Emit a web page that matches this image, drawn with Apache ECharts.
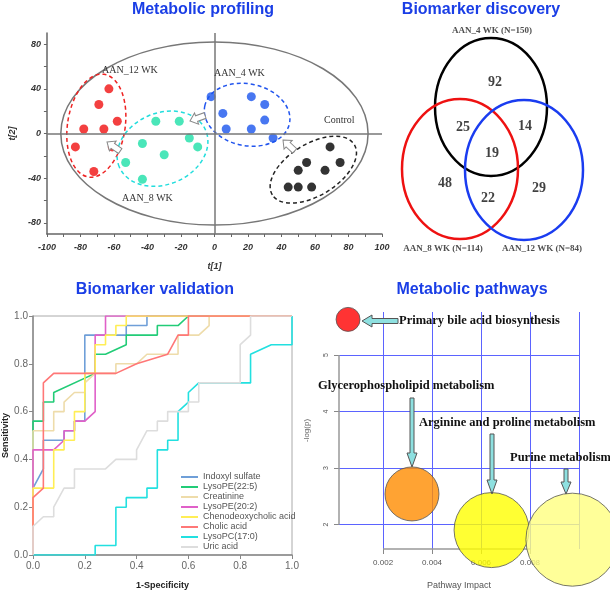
<!DOCTYPE html>
<html><head><meta charset="utf-8">
<script src="https://cdn.jsdelivr.net/npm/echarts@6/dist/echarts.min.js"></script>
<style>html,body{margin:0;padding:0;background:#fff}#c{width:610px;height:591px}</style>
</head><body><div id="c"></div>
<script>
// ---------- Panel 1: PCA scores (t[1], t[2]) ----------
const pcaGroups = ['AAN_12 WK', 'AAN_8 WK', 'AAN_4 WK', 'Control'];
const pcaAAN12 = [[-63,40],[-69,26],[-58,11],[-78,4],[-66,4],[-83,-12],[-61,-12],[-72,-34]];
const pcaAAN8 = [[-35,11],[-21,11],[-15,-4],[-10,-12],[-43,-9],[-30,-19],[-53,-26],[-43,-41]];
const pcaAAN4 = [[-2,33],[22,33],[30,26],[5,18],[30,12],[7,4],[22,4],[35,-4]];
const pcaControl = [[69,-12],[55,-26],[75,-26],[50,-33],[66,-33],[44,-48],[50,-48],[58,-48]];
const pcaXLabels = [-100,-80,-60,-40,-20,0,20,40,60,80,100];
const pcaXTicks = [-100,-90,-80,-70,-60,-50,-40,-30,-20,-10,0,10,20,30,40,50,60,70,80,90,100];
const pcaYLabels = [-80,-40,0,40,80];
const pcaYTicks = [-80,-60,-40,-20,0,20,40,60,80];

// ---------- Panel 2: Venn counts ----------
const vennSets = ['AAN_4 WK', 'AAN_8 WK', 'AAN_12 WK'];
const vennTotals = [150, 114, 84];
const vennRegions = ['4 only', '4&8', '4&12', '4&8&12', '8 only', '8&12', '12 only'];
const vennCounts = [92, 25, 14, 19, 48, 22, 29];

// ---------- Panel 3: ROC curves ----------
const rocNames = ['Indoxyl sulfate','LysoPE(22:5)','Creatinine','LysoPE(20:2)','Chenodeoxycholic acid','Cholic acid','LysoPC(17:0)','Uric acid'];
const rocIndoxyl = [[0,0],[0,0.28],[0.04,0.36],[0.04,0.48],[0.12,0.48],[0.12,0.52],[0.16,0.52],[0.16,0.56],[0.2,0.56],[0.2,0.92],[0.36,0.92],[0.36,0.96],[0.44,0.96],[0.44,1],[1,1]];
const rocLysoPE225 = [[0,0],[0,0.56],[0.04,0.56],[0.04,0.64],[0.08,0.64],[0.08,0.68],[0.24,0.76],[0.24,0.84],[0.28,0.84],[0.36,0.88],[0.36,0.92],[0.48,0.92],[0.48,0.96],[0.56,0.96],[0.6,1],[1,1]];
const rocCreatinine = [[0,0],[0,0.52],[0.08,0.52],[0.08,0.6],[0.12,0.6],[0.12,0.64],[0.16,0.68],[0.2,0.68],[0.2,0.72],[0.24,0.76],[0.32,0.76],[0.32,0.8],[0.4,0.8],[0.44,0.84],[0.56,0.84],[0.56,0.92],[0.64,0.92],[0.68,0.96],[0.68,1],[1,1]];
const rocLysoPE202 = [[0,0],[0,0.44],[0.08,0.44],[0.12,0.48],[0.12,0.52],[0.16,0.52],[0.16,0.56],[0.2,0.56],[0.24,0.6],[0.24,0.92],[0.28,0.92],[0.28,1],[1,1]];
const rocCDCA = [[0,0],[0,0.28],[0.08,0.28],[0.08,0.44],[0.12,0.44],[0.12,0.48],[0.16,0.48],[0.16,0.6],[0.2,0.6],[0.2,0.76],[0.24,0.76],[0.24,0.88],[0.28,0.88],[0.28,0.92],[0.32,0.92],[0.32,0.96],[0.36,0.96],[0.36,1],[1,1]];
const rocCholic = [[0,0],[0,0.24],[0.04,0.28],[0.04,0.72],[0.08,0.76],[0.32,0.76],[0.4,0.8],[0.52,0.84],[0.56,0.92],[0.6,0.92],[0.6,1],[1,1]];
const rocLysoPC170 = [[0,0],[0.24,0],[0.24,0.04],[0.32,0.04],[0.32,0.2],[0.36,0.2],[0.36,0.24],[0.44,0.24],[0.44,0.28],[0.48,0.28],[0.48,0.44],[0.52,0.44],[0.52,0.48],[0.56,0.48],[0.56,0.6],[0.6,0.64],[0.6,0.68],[0.64,0.72],[0.84,0.72],[0.84,0.84],[0.92,0.88],[1,0.88],[1,1]];
const rocUric = [[0,0],[0,0.12],[0.04,0.16],[0.08,0.16],[0.08,0.2],[0.12,0.28],[0.16,0.28],[0.16,0.36],[0.28,0.36],[0.32,0.4],[0.4,0.4],[0.4,0.44],[0.44,0.52],[0.48,0.52],[0.48,0.56],[0.52,0.56],[0.52,0.6],[0.6,0.6],[0.6,0.64],[0.64,0.64],[0.64,0.72],[0.8,0.72],[0.8,0.88],[0.84,0.92],[0.84,1],[1,1]];

// ---------- Panel 4: Pathway analysis ----------
const pathwayNames = ['Primary bile acid biosynthesis','Glycerophospholipid metabolism','Arginine and proline metabolism','Purine metabolism'];
const pathwayImpact = [0.00057, 0.00318, 0.00643, 0.00973];
const pathwayLogP = [5.63, 2.54, 1.90, 1.73];
const pathwayBubble = [24, 54, 75, 93];
const pathwayXTicks = [0.002, 0.004, 0.006, 0.008];
const pathwayXGrid = [0.002, 0.004, 0.006, 0.008, 0.010];
const pathwayYTicks = [2, 3, 4, 5];

// ---------- styling ----------
const SANS = 'Arial, "Liberation Sans", sans-serif';
const SERIF = '"Times New Roman", "Liberation Serif", serif';
const TITLE_BLUE = '#1a3ee6';
const pcaColors = ['#f01010', '#1de0a8', '#1a55ee', '#000000'];
const rocColors = ['#6f9fd8', '#22cc77', '#eedcaa', '#e060c8', '#ffee55', '#ff7777', '#22e0e0', '#dddddd'];
const pathwayColors = ['#ff0000', '#ff8c00', '#ffff00', '#ffff80'];
const PX_MIN = 0.0002, PX_MAX = 0.010, PY_MIN = 1.565, PY_MAX = 5.761;

// ellipse decorations in data units: [cx, cy, rx, ry, rotation, styleIndex]
const pcaEllipses = [[0,0,91.7,82,0,0],[-70.5,7,17.2,46.5,-0.15,1],[-31,-13.6,28,32,0.4,2],[19.5,16.8,25.8,27.7,-0.2,3],[59,-32.4,28.7,23.2,0.55,4]];
const pcaEllipseStyles = [
  {color:'#777', w:1.5, dash:null},
  {color:'#ee2222', w:1.5, dash:[4,3]},
  {color:'#22dddd', w:1.5, dash:[4,3]},
  {color:'#2255ee', w:1.5, dash:[4,3]},
  {color:'#222222', w:1.5, dash:[4,3]}
];
const vennCircles = [[101,87,56,69,0,0],[70,149,58,70,0,1],[134,150,59,70,0,2]];
const vennCircleStyles = [{color:'#000', w:2.5, dash:null},{color:'#ee1111', w:2.5, dash:null},{color:'#1a3cf0', w:2.5, dash:null}];
const vennCountPos = [[105,62],[73,107],[135,106],[102,133],[55,163],[98,178],[149,168]];
const vennSetPos = [[102,11],[53,229],[152,229]];

function ellipseRenderer(styles) {
  return function (params, api) {
    const c = api.coord([api.value(0), api.value(1)]);
    const s = api.size([api.value(2), api.value(3)]);
    const st = styles[api.value(5)];
    return {
      type: 'ellipse', x: c[0], y: c[1], rotation: api.value(4),
      shape: {cx: 0, cy: 0, rx: s[0], ry: s[1]},
      style: {fill: 'none', stroke: st.color, lineWidth: st.w, lineDash: st.dash},
      silent: true
    };
  };
}

function blockArrow(tx, ty, rot, len, bodyHalf, headHalf, headLen, fill, stroke) {
  return {type: 'polygon', x: tx, y: ty, rotation: rot, z: 100, silent: true,
    shape: {points: [[0,0],[headLen,-headHalf],[headLen,-bodyHalf],[len,-bodyHalf],[len,bodyHalf],[headLen,bodyHalf],[headLen,headHalf]]},
    style: {fill: fill, stroke: stroke, lineWidth: 1}};
}
function txt(x, y, text, font, color, align) {
  return {type: 'text', x: x, y: y, z: 100, silent: true,
    style: {text: text, font: font, fill: color, align: align || 'center', verticalAlign: 'middle'}};
}

const chart = echarts.init(document.getElementById('c'), null, {renderer: 'canvas'});

const pcaData = [pcaAAN12, pcaAAN8, pcaAAN4, pcaControl];
const rocData = [rocIndoxyl, rocLysoPE225, rocCreatinine, rocLysoPE202, rocCDCA, rocCholic, rocLysoPC170, rocUric];

const series = [];
series.push({type: 'custom', xAxisIndex: 0, yAxisIndex: 0, renderItem: ellipseRenderer(pcaEllipseStyles), data: pcaEllipses, silent: true, z: 1});
pcaGroups.forEach(function (g, i) {
  const s = {type: 'scatter', name: g, xAxisIndex: 0, yAxisIndex: 0, data: pcaData[i], symbolSize: 9,
    itemStyle: {color: pcaColors[i]}, z: 3, silent: true};
  if (i === 0) {
    s.markLine = {silent: true, symbol: ['none','none'], label: {show: false}, animation: false,
      lineStyle: {color: '#777', width: 1.5, type: 'solid'},
      data: [[{coord: [0, -90]}, {coord: [0, 90]}], [{coord: [-100, 0]}, {coord: [100, 0]}]]};
  }
  series.push(s);
});
series.push({type: 'custom', xAxisIndex: 1, yAxisIndex: 1, renderItem: ellipseRenderer(vennCircleStyles), data: vennCircles, silent: true, z: 2});
series.push({type: 'scatter', name: 'venn', xAxisIndex: 1, yAxisIndex: 1, symbolSize: 0, silent: true, z: 4,
  data: vennCounts.map(function (v, i) { return {name: vennRegions[i], value: [vennCountPos[i][0], vennCountPos[i][1], v]}; }),
  label: {show: true, position: 'inside', formatter: function (p) { return p.value[2]; },
    fontFamily: SERIF, fontWeight: 'bold', fontSize: 14, color: '#111'}});
series.push({type: 'scatter', name: 'vennSets', xAxisIndex: 1, yAxisIndex: 1, symbolSize: 0, silent: true, z: 4,
  data: vennSets.map(function (v, i) { return {name: v, value: [vennSetPos[i][0], vennSetPos[i][1], vennTotals[i]]}; }),
  label: {show: true, position: 'inside', formatter: function (p) { return p.name + ' (N=' + p.value[2] + ')'; },
    fontFamily: SERIF, fontWeight: 'bold', fontSize: 9, color: '#222'}});
rocNames.forEach(function (n, i) {
  series.push({type: 'line', name: n, xAxisIndex: 2, yAxisIndex: 2, data: rocData[i], showSymbol: false, symbol: 'none',
    lineStyle: {color: rocColors[i], width: 1.6}, itemStyle: {color: rocColors[i]}, z: 3, silent: true});
});
const gridSegs = pathwayXGrid.map(function (v) { return [{coord: [v, PY_MIN]}, {coord: [v, PY_MAX]}]; })
  .concat(pathwayYTicks.map(function (v) { return [{coord: [PX_MIN, v]}, {coord: [PX_MAX, v]}]; }));
series.push({type: 'line', name: 'pgrid', xAxisIndex: 3, yAxisIndex: 3, data: [], z: 1, silent: true,
  markLine: {silent: true, symbol: ['none','none'], label: {show: false}, animation: false,
    lineStyle: {color: '#5b63ff', width: 1, type: 'solid'}, data: gridSegs}});
series.push({type: 'line', name: 'paxis', xAxisIndex: 3, yAxisIndex: 3, data: [], z: 2, silent: true,
  markLine: {silent: true, symbol: ['none','none'], label: {show: false}, animation: false,
    lineStyle: {color: '#999', width: 1.5, type: 'solid'},
    data: [
      [{coord: [pathwayXTicks[0], PY_MIN]}, {coord: [pathwayXTicks[pathwayXTicks.length-1], PY_MIN]}],
      [{coord: [PX_MIN, pathwayYTicks[0]]}, {coord: [PX_MIN, pathwayYTicks[pathwayYTicks.length-1]]}]
    ]}});
series.push({type: 'scatter', name: 'pathways', xAxisIndex: 3, yAxisIndex: 3, clip: false, z: 5, silent: true,
  data: pathwayNames.map(function (n, i) {
    return {name: n, value: [pathwayImpact[i], pathwayLogP[i], pathwayBubble[i]],
      itemStyle: {color: pathwayColors[i], borderColor: '#555', borderWidth: 1}};
  }),
  symbolSize: function (v) { return v[2]; }});

const pcaTxt = {fontSize: 9, fontWeight: 'bold', fontStyle: 'italic', color: '#333', fontFamily: SANS};
const rocTxt = {fontSize: 10, color: '#666', fontFamily: SANS};

const graphics = [
  txt(203, 10, 'Metabolic profiling', 'bold 16px ' + SANS, TITLE_BLUE),
  txt(481, 10, 'Biomarker discovery', 'bold 16px ' + SANS, TITLE_BLUE),
  txt(155, 290, 'Biomarker validation', 'bold 16px ' + SANS, TITLE_BLUE),
  txt(472, 290, 'Metabolic pathways', 'bold 16px ' + SANS, TITLE_BLUE),
  txt(102, 70, 'AAN_12 WK', '10px ' + SERIF, '#333', 'left'),
  txt(214, 73, 'AAN_4 WK', '10px ' + SERIF, '#333', 'left'),
  txt(324, 120, 'Control', '10px ' + SERIF, '#333', 'left'),
  txt(122, 198, 'AAN_8 WK', '10px ' + SERIF, '#333', 'left'),
  blockArrow(107, 142, -0.6, 16, 3, 6, 7, '#fff', '#888'),
  blockArrow(190, 121, 0.35, 16, 3, 6, 7, '#fff', '#888'),
  blockArrow(283, 140, -0.75, 16, 3, 6, 7, '#fff', '#888'),
  blockArrow(362, 321, 0, 36, 2.5, 6, 10, '#8ee0e0', '#555'),
  blockArrow(412, 467, Math.PI/2, 69, 2, 5, 14, '#8ee0e0', '#555'),
  blockArrow(492, 494, Math.PI/2, 60, 2, 5, 14, '#8ee0e0', '#555'),
  blockArrow(566, 494, Math.PI/2, 25, 2, 5, 12, '#8ee0e0', '#555'),
  txt(399, 321, pathwayNames[0], 'bold 12.5px ' + SERIF, '#111', 'left'),
  txt(318, 386, pathwayNames[1], 'bold 12.5px ' + SERIF, '#111', 'left'),
  txt(419, 423, pathwayNames[2], 'bold 12.5px ' + SERIF, '#111', 'left'),
  txt(510, 458, pathwayNames[3], 'bold 12.5px ' + SERIF, '#111', 'left')
];

const option = {
  animation: false,
  backgroundColor: '#fff',
  grid: [
    {left: 33, top: 33, width: 349, height: 201},
    {left: 390, top: 20, width: 220, height: 240},
    {left: 33, top: 316, width: 259, height: 241, show: true, borderColor: '#aaa', borderWidth: 1},
    {left: 339, top: 312, width: 240, height: 241}
  ],
  xAxis: [
    {gridIndex: 0, type: 'value', min: -100, max: 100,
      axisLine: {onZero: false, lineStyle: {color: '#666', width: 1.5}},
      axisTick: {customValues: pcaXTicks, length: 3, lineStyle: {color: '#666'}},
      axisLabel: Object.assign({customValues: pcaXLabels, margin: 9}, pcaTxt),
      splitLine: {show: false},
      name: 't[1]', nameLocation: 'middle', nameGap: 28, nameTextStyle: pcaTxt},
    {gridIndex: 1, type: 'value', min: 0, max: 220, show: false},
    {gridIndex: 2, type: 'value', min: 0, max: 1, interval: 0.2,
      axisLine: {onZero: false, lineStyle: {color: '#888', width: 1.5}},
      axisTick: {length: 4, lineStyle: {color: '#888'}},
      axisLabel: Object.assign({margin: 6, formatter: function (v) { return v.toFixed(1); }}, rocTxt),
      splitLine: {show: false},
      name: '1-Specificity', nameLocation: 'middle', nameGap: 26,
      nameTextStyle: {fontSize: 9, fontWeight: 'bold', color: '#222', fontFamily: SANS}},
    {gridIndex: 3, type: 'value', min: PX_MIN, max: PX_MAX,
      axisLine: {show: false},
      axisTick: {customValues: pathwayXTicks, length: 5, lineStyle: {color: '#888'}},
      axisLabel: {customValues: pathwayXTicks, margin: 10, fontSize: 8, color: '#555', fontFamily: SANS,
        formatter: function (v) { return v.toFixed(3); }},
      splitLine: {show: false},
      name: 'Pathway Impact', nameLocation: 'middle', nameGap: 32,
      nameTextStyle: {fontSize: 9, color: '#555', fontFamily: SANS}}
  ],
  yAxis: [
    {gridIndex: 0, type: 'value', min: -90, max: 90,
      axisLine: {onZero: false, lineStyle: {color: '#666', width: 1.5}},
      axisTick: {customValues: pcaYTicks, length: 3, lineStyle: {color: '#666'}},
      axisLabel: Object.assign({customValues: pcaYLabels, margin: 6}, pcaTxt),
      splitLine: {show: false},
      name: 't[2]', nameLocation: 'middle', nameGap: 22, nameTextStyle: pcaTxt},
    {gridIndex: 1, type: 'value', min: 0, max: 240, inverse: true, show: false},
    {gridIndex: 2, type: 'value', min: 0, max: 1, interval: 0.2,
      axisLine: {onZero: false, lineStyle: {color: '#888', width: 1.5}},
      axisTick: {length: 4, lineStyle: {color: '#888'}},
      axisLabel: Object.assign({margin: 5, formatter: function (v) { return v.toFixed(1); }}, rocTxt),
      splitLine: {show: false},
      name: 'Sensitivity', nameLocation: 'middle', nameGap: 23,
      nameTextStyle: {fontSize: 9, fontWeight: 'bold', color: '#222', fontFamily: SANS}},
    {gridIndex: 3, type: 'value', min: PY_MIN, max: PY_MAX,
      axisLine: {show: false},
      axisTick: {customValues: pathwayYTicks, length: 5, lineStyle: {color: '#888'}},
      axisLabel: {customValues: pathwayYTicks, margin: 9, rotate: 90, fontSize: 7, color: '#555', fontFamily: SANS},
      splitLine: {show: false},
      name: '-log(p)', nameLocation: 'middle', nameGap: 28, nameRotate: 90,
      nameTextStyle: {fontSize: 8, color: '#666', fontFamily: SANS}}
  ],
  legend: {data: rocNames, orient: 'vertical', left: 181, top: 472, padding: 0,
    icon: 'rect', itemWidth: 17, itemHeight: 2, itemGap: 0,
    textStyle: {fontSize: 9, color: '#555', fontFamily: SANS, lineHeight: 10}},
  series: series,
  graphic: graphics
};
chart.setOption(option);
</script>
</body></html>
